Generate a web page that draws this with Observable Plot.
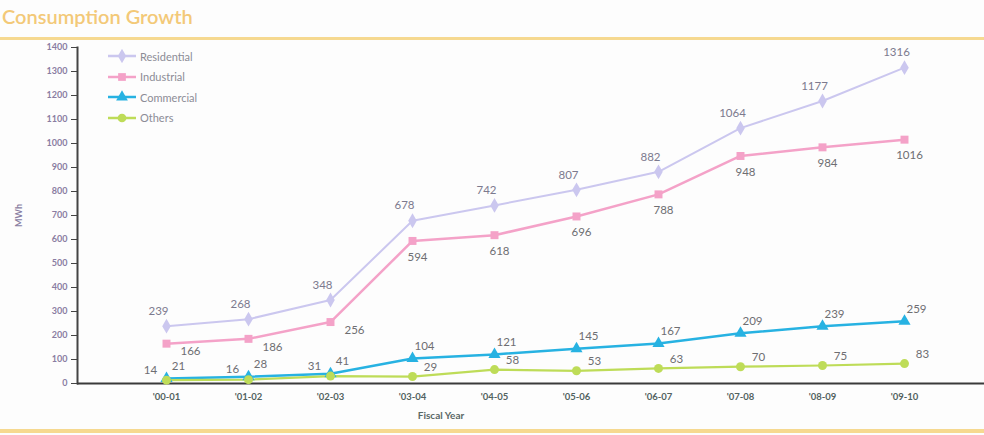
<!DOCTYPE html>
<html>
<head>
<meta charset="utf-8">
<script src="https://cdn.jsdelivr.net/npm/d3@7"></script>
<script src="https://cdn.jsdelivr.net/npm/@observablehq/plot@0.6"></script>
<style>
  body { margin: 0; background: #fff; font-family: Lato, "Open Sans", sans-serif; }
  #wrap { position: relative; width: 984px; height: 435px; overflow: hidden; background: #fdfdfd; }
  #title { position: absolute; left: 2px; top: 4px; font-size: 20px; color: #f3c978; font-weight: 600; white-space: nowrap; }
  .rule { position: absolute; left: 0; width: 984px; background: #f6d990; }
  #chart { position: absolute; left: 0; top: 40px; }
  #legend { position: absolute; left: 106px; top: 46px; font-size: 11px; color: #8c8c96; }
  #legend .item { display: flex; align-items: center; height: 20.5px; }
  #legend svg { margin-right: 4px; }
</style>
</head>
<body>
<div id="wrap">
  <div id="title">Consumption Growth</div>
  <div class="rule" style="top:37px;height:3px"></div>
  <div id="chart"></div>
  <div id="legend"></div>
  <div class="rule" style="top:429px;height:4px"></div>
</div>
<script>
// Fiscal years on the x axis
const years = ["'00-01", "'01-02", "'02-03", "'03-04", "'04-05", "'05-06", "'06-07", "'07-08", "'08-09", "'09-10"];

// Consumption by sector, MWh
const residential = [239, 268, 348, 678, 742, 807, 882, 1064, 1177, 1316];
const industrial  = [166, 186, 256, 594, 618, 696, 788, 948, 984, 1016];
const commercial  = [21, 28, 41, 104, 121, 145, 167, 209, 239, 259];
const others      = [14, 16, 31, 29, 58, 53, 63, 70, 75, 83];

const seriesNames = ["Residential", "Industrial", "Commercial", "Others"];
const yTicks = [0, 100, 200, 300, 400, 500, 600, 700, 800, 900, 1000, 1100, 1200, 1300, 1400];

const colors  = ["#cbc7ef", "#f4a2c8", "#27b2e2", "#bedc58"];
const symbols = ["diamond", "square", "triangle", "circle"];
const widths  = [2, 2.5, 2.5, 2.2];

const valuesBySeries = [residential, industrial, commercial, others];
const rows = seriesNames.flatMap((s, k) =>
  years.map((year, i) => ({ series: s, year, i, value: valuesBySeries[k][i] }))
);
const of = (s) => rows.filter(d => d.series === s);

const labelStyle = { x: "year", y: "value", text: d => String(d.value), fontSize: 11.5, fill: "#6e6e72" };

const chart = Plot.plot({
  width: 984,
  height: 388,
  marginLeft: 77,
  marginRight: 0,
  marginTop: 7,
  marginBottom: 45,
  style: { background: "transparent", fontFamily: "Lato, 'Open Sans', sans-serif" },
  x: { type: "point", domain: years, range: [123, 947] },
  y: { domain: [0, 1400], ticks: yTicks, tickFormat: "d" },
  color: { domain: seriesNames, range: colors },
  symbol: { domain: seriesNames, range: symbols },
  marks: [
    Plot.axisY({
      ticks: yTicks, tickFormat: "d", tickSize: 6, tickPadding: 4, fontSize: 9, fontWeight: "bold",
      stroke: "#444", fill: "#8a7da2",
      label: "MWh", labelAnchor: "center", labelOffset: 62, labelArrow: "none"
    }),
    Plot.axisX({ tickSize: 0, tickPadding: 10, fontSize: 9.5, fontWeight: "bold", fill: "#526260", label: null }),
    Plot.text(["Fiscal Year"], { frameAnchor: "bottom", dx: -90, dy: 35, fontSize: 10, fontWeight: "bold", fill: "#5a6866" }),
    Plot.frame({ anchor: "left", stroke: "#444", strokeWidth: 2 }),
    Plot.ruleY([0], { stroke: "#3a3a3a", strokeWidth: 2 }),
    ...seriesNames.map((s, k) =>
      Plot.line(of(s), { x: "year", y: "value", stroke: colors[k], strokeWidth: widths[k] })
    ),
    Plot.dot(rows, { x: "year", y: "value", fill: "series", symbol: "series", r: 4.5 }),
    // value labels
    Plot.text(of("Residential"), { ...labelStyle, dx: -8, dy: -15, fill: "#7c7a8e" }),
    Plot.text(of("Industrial").filter(d => d.i < 3), { ...labelStyle, dx: 24, dy: 8 }),
    Plot.text(of("Industrial").filter(d => d.i >= 3), { ...labelStyle, dx: 5, dy: 16 }),
    Plot.text(of("Commercial"), { ...labelStyle, dx: 12, dy: -12 }),
    Plot.text(of("Others").filter(d => d.i < 3), { ...labelStyle, dx: -16, dy: -10 }),
    Plot.text(of("Others").filter(d => d.i >= 3), { ...labelStyle, dx: 18, dy: -9 })
  ]
});
document.getElementById("chart").appendChild(chart);

// legend: line swatch with its marker, then the series name
const symbolTypes = [d3.symbolDiamond, d3.symbolSquare, d3.symbolTriangle, d3.symbolCircle];
const legend = d3.select("#legend");
seriesNames.forEach((name, k) => {
  const item = legend.append("div").attr("class", "item");
  const svg = item.append("svg").attr("width", 30).attr("height", 14);
  svg.append("line").attr("x1", 2).attr("x2", 30).attr("y1", 7).attr("y2", 7)
    .attr("stroke", colors[k]).attr("stroke-width", 2.5);
  svg.append("path").attr("transform", "translate(16,7)")
    .attr("d", d3.symbol(symbolTypes[k], 60)()).attr("fill", colors[k]);
  item.append("span").text(name);
});
</script>
</body>
</html>
